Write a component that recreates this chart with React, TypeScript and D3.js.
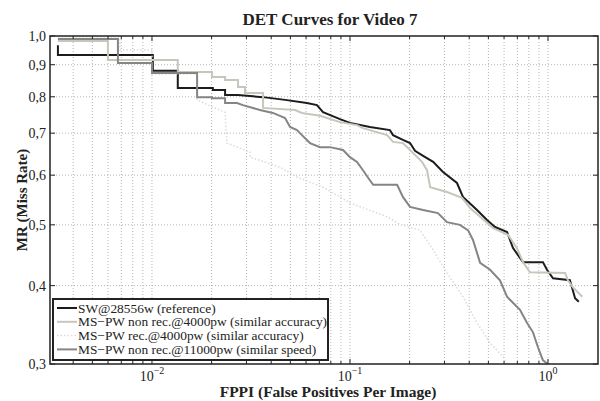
import React from 'react';
import * as d3 from 'd3';

// chart text
const title = 'DET Curves for Video 7';
const xLabel = 'FPPI (False Positives Per Image)';
const yLabel = 'MR (Miss Rate)';

// ticks
const yTicks = [0.3, 0.4, 0.5, 0.6, 0.7, 0.8, 0.9, 1.0];
const yTickLabels = ['0,3', '0,4', '0,5', '0,6', '0,7', '0,8', '0,9', '1,0'];
const xMajorTicks = [0.01, 0.1, 1];
const xMajorExponents = ['\u22122', '\u22121', '0'];

// legend entries
const seriesNames = [
  'SW@28556w (reference)',
  'MS\u2212PW non rec.@4000pw (similar accuracy)',
  'MS\u2212PW rec.@4000pw (similar accuracy)',
  'MS\u2212PW non rec.@11000pw (similar speed)',
];

// [FPPI, miss rate]
const swRef: [number, number][] = [
  [0.00335, 0.967], [0.00335, 0.933], [0.0101, 0.933], [0.0101, 0.88], [0.0135, 0.88],
  [0.0135, 0.826], [0.0203, 0.826], [0.0203, 0.82], [0.0234, 0.82], [0.0234, 0.805],
  [0.0272, 0.805], [0.0364, 0.799], [0.047, 0.791], [0.0606, 0.782], [0.0681, 0.776],
  [0.0731, 0.756], [0.089, 0.737], [0.1, 0.727], [0.126, 0.716], [0.159, 0.708],
  [0.165, 0.695], [0.185, 0.683], [0.201, 0.675], [0.213, 0.656], [0.234, 0.644],
  [0.263, 0.63], [0.295, 0.607], [0.347, 0.583], [0.372, 0.554], [0.438, 0.528],
  [0.492, 0.509], [0.54, 0.496], [0.621, 0.487], [0.666, 0.459], [0.748, 0.436],
  [0.943, 0.436], [0.988, 0.424], [1.06, 0.411], [1.29, 0.408], [1.32, 0.398],
  [1.37, 0.382], [1.43, 0.377],
];

const nonRec4000: [number, number][] = [
  [0.00335, 0.982], [0.00599, 0.982], [0.00599, 0.916], [0.0135, 0.916], [0.0135, 0.876],
  [0.0201, 0.876], [0.0201, 0.86], [0.0234, 0.86], [0.0234, 0.851], [0.0272, 0.851],
  [0.0272, 0.829], [0.0295, 0.829], [0.0295, 0.811], [0.0364, 0.811], [0.0364, 0.768],
  [0.0528, 0.762], [0.0572, 0.754], [0.0706, 0.746], [0.089, 0.729], [0.1085, 0.721],
  [0.1163, 0.713], [0.154, 0.695], [0.165, 0.678], [0.185, 0.675], [0.201, 0.658],
  [0.231, 0.63], [0.245, 0.611], [0.254, 0.574], [0.309, 0.564], [0.368, 0.552],
  [0.404, 0.532], [0.454, 0.515], [0.528, 0.494], [0.628, 0.482], [0.697, 0.459],
  [0.748, 0.436], [0.811, 0.42], [1.22, 0.419], [1.26, 0.408], [1.34, 0.397],
  [1.49, 0.384],
];

const rec4000: [number, number][] = [
  [0.00335, 0.993], [0.00689, 0.993], [0.00689, 0.95], [0.01, 0.95], [0.01, 0.87],
  [0.0169, 0.87], [0.0169, 0.791], [0.0203, 0.77], [0.0234, 0.756], [0.0239, 0.675],
  [0.0313, 0.653], [0.0313, 0.641], [0.0443, 0.618], [0.054, 0.596], [0.0731, 0.574],
  [0.1, 0.542], [0.154, 0.515], [0.179, 0.501], [0.226, 0.49], [0.263, 0.456],
  [0.309, 0.419], [0.372, 0.384], [0.438, 0.349], [0.51, 0.324], [0.593, 0.308],
  [0.621, 0.3],
];

const nonRec11000: [number, number][] = [
  [0.00335, 0.989], [0.00673, 0.989], [0.00673, 0.906], [0.01, 0.906], [0.01, 0.873],
  [0.0169, 0.873], [0.0169, 0.799], [0.0201, 0.799], [0.0201, 0.796], [0.0234, 0.796],
  [0.0234, 0.782], [0.0269, 0.782], [0.0288, 0.776], [0.0351, 0.762], [0.0408, 0.754],
  [0.047, 0.74], [0.0498, 0.716], [0.054, 0.708], [0.0572, 0.695], [0.0628, 0.675],
  [0.0706, 0.665], [0.0793, 0.665], [0.0922, 0.658], [0.1, 0.641], [0.1085, 0.63],
  [0.1163, 0.611], [0.126, 0.589], [0.131, 0.579], [0.173, 0.579], [0.185, 0.554],
  [0.201, 0.534], [0.234, 0.528], [0.278, 0.522], [0.309, 0.505], [0.359, 0.5],
  [0.395, 0.49], [0.418, 0.473], [0.454, 0.435], [0.51, 0.424], [0.572, 0.408],
  [0.621, 0.384], [0.722, 0.366], [0.783, 0.349], [0.84, 0.337], [0.89, 0.319],
  [0.943, 0.304], [1.0, 0.3],
];

const seriesData = [swRef, nonRec4000, rec4000, nonRec11000];
const seriesStyle = [
  { color: '#1c1c1c', width: 2, dash: '' },
  { color: '#c8c6bc', width: 2, dash: '' },
  { color: '#dadada', width: 1.5, dash: '1.5,2' },
  { color: '#858585', width: 2, dash: '' },
];

const W = 600;
const H = 401;
const margin = { top: 36, right: 2, bottom: 37, left: 50 };
const serif = '"Liberation Serif", "Times New Roman", serif';

export default function App() {
  const x = d3.scaleLog()
    .domain([Math.pow(10, -2.515), Math.pow(10, 0.2525)])
    .range([margin.left, W - margin.right]);
  const y = d3.scaleLog()
    .domain([0.3, 1.0])
    .range([H - margin.bottom, margin.top]);

  const [x0, x1] = x.range();
  const [y0, y1] = y.range(); // y0 bottom, y1 top

  const minorTicks = x.ticks().filter((t) => t > x.domain()[0] && t < x.domain()[1]);

  const line = d3.line<[number, number]>()
    .x((d) => x(d[0]))
    .y((d) => y(d[1]));

  return (
    <svg width={W} height={H} style={{ position: 'absolute', left: 0, top: 0, background: '#fff' }}
      fontFamily={serif}>
      <defs>
        <clipPath id="plot">
          <rect x={x0} y={y1} width={x1 - x0} height={y0 - y1} />
        </clipPath>
      </defs>

      {/* grid */}
      <g stroke="#b5b5b5" strokeWidth={1} strokeDasharray="1,2">
        {minorTicks.map((t, i) => (
          <line key={'gx' + i} x1={x(t)} x2={x(t)} y1={y1} y2={y0} />
        ))}
        {yTicks.slice(1, -1).map((t, i) => (
          <line key={'gy' + i} x1={x0} x2={x1} y1={y(t)} y2={y(t)} />
        ))}
      </g>

      {/* curves */}
      <g clipPath="url(#plot)" fill="none">
        {seriesData.map((d, i) => (
          <path key={'s' + i} d={line(d) || ''} stroke={seriesStyle[i].color}
            strokeWidth={seriesStyle[i].width} strokeDasharray={seriesStyle[i].dash} />
        ))}
      </g>

      {/* ticks */}
      <g stroke="#222" strokeWidth={1}>
        {minorTicks.map((t, i) => {
          const major = xMajorTicks.some((m) => Math.abs(m - t) < 1e-9);
          const len = major ? 5 : 3;
          return (
            <g key={'tx' + i}>
              <line x1={x(t)} x2={x(t)} y1={y0} y2={y0 - len} />
              <line x1={x(t)} x2={x(t)} y1={y1} y2={y1 + len} />
            </g>
          );
        })}
        {yTicks.map((t, i) => (
          <g key={'ty' + i}>
            <line x1={x0} x2={x0 + 5} y1={y(t)} y2={y(t)} />
            <line x1={x1} x2={x1 - 5} y1={y(t)} y2={y(t)} />
          </g>
        ))}
      </g>

      {/* frame */}
      <rect x={x0} y={y1} width={x1 - x0} height={y0 - y1} fill="none" stroke="#222" strokeWidth={1.5} />

      {/* y tick labels */}
      {yTicks.map((t, i) => (
        <text key={'yl' + i} x={x0 - 4} y={y(t) + 5} textAnchor="end" fontSize={14} fill="#222">
          {yTickLabels[i]}
        </text>
      ))}

      {/* x tick labels */}
      {xMajorTicks.map((t, i) => (
        <text key={'xl' + i} x={x(t)} y={y0 + 17} textAnchor="middle" fontSize={14} fill="#222">
          10<tspan fontSize={10} dy={-7}>{xMajorExponents[i]}</tspan>
        </text>
      ))}

      {/* titles */}
      <text x={330} y={25} textAnchor="middle" fontSize={17} fontWeight="bold" fill="#222">{title}</text>
      <text x={328} y={397} textAnchor="middle" fontSize={15.5} fontWeight="bold" fill="#222">{xLabel}</text>
      <text transform={`translate(27,${(y0 + y1) / 2}) rotate(-90)`} textAnchor="middle" fontSize={15}
        fontWeight="bold" fill="#222">{yLabel}</text>

      {/* legend */}
      <g>
        <rect x={53} y={299} width={275} height={61} fill="#fff" stroke="#222" strokeWidth={2} />
        {seriesNames.map((name, i) => {
          const ly = 308 + i * 13.8;
          return (
            <g key={'lg' + i}>
              <line x1={57} x2={77} y1={ly} y2={ly} stroke={seriesStyle[i].color}
                strokeWidth={seriesStyle[i].width} strokeDasharray={seriesStyle[i].dash} />
              <text x={78} y={ly + 4.5} fontSize={13.4} fill="#222">{name}</text>
            </g>
          );
        })}
      </g>
    </svg>
  );
}
